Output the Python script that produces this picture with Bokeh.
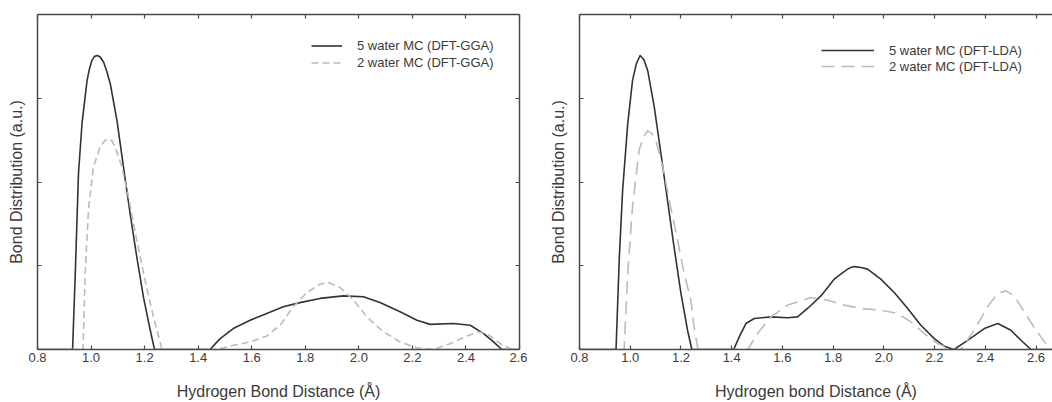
from bokeh.plotting import figure
from bokeh.layouts import row
from bokeh.models import (LinearAxis, FixedTicker, CustomJSTickFormatter, Legend, LegendItem, Range1d)
from bokeh.embed import file_html
from bokeh.resources import INLINE

# ---- data ----
gga5_x = [0.80, 0.931, 0.941, 0.953, 0.966, 0.985, 0.994, 1.003, 1.013, 1.024, 1.035, 1.047, 1.059, 1.072,
          1.097, 1.121, 1.146, 1.171, 1.196, 1.221, 1.237,
          1.444, 1.482, 1.531, 1.594, 1.656, 1.718, 1.78, 1.855, 1.942, 2.017, 2.079, 2.154, 2.217, 2.266,
          2.353, 2.416, 2.466, 2.503, 2.534, 2.60]
gga5_y = [0.0, 0.0, 0.90, 2.10, 2.69, 3.21, 3.35, 3.45, 3.50, 3.51, 3.49, 3.43, 3.32, 3.17,
          2.73, 2.18, 1.62, 1.10, 0.62, 0.23, 0.0,
          0.0, 0.13, 0.25, 0.35, 0.43, 0.51, 0.56, 0.61, 0.64, 0.63, 0.56, 0.45, 0.35, 0.30,
          0.31, 0.29, 0.19, 0.09, 0.0, 0.0]

gga2_x = [0.80, 0.970, 0.978, 0.991, 1.009, 1.034, 1.050, 1.065, 1.078, 1.090, 1.115, 1.140, 1.171, 1.202,
          1.233, 1.265,
          1.469, 1.531, 1.594, 1.656, 1.706, 1.755, 1.806, 1.855, 1.886, 1.93, 1.98, 2.03, 2.092, 2.154,
          2.217, 2.279, 2.341, 2.403, 2.447, 2.478, 2.528, 2.572, 2.60]
gga2_y = [0.0, 0.0, 0.90, 1.70, 2.18, 2.42, 2.49, 2.52, 2.49, 2.42, 2.18, 1.82, 1.30, 0.82,
          0.39, 0.0,
          0.0, 0.05, 0.09, 0.16, 0.29, 0.51, 0.68, 0.78, 0.80, 0.74, 0.59, 0.39, 0.21, 0.09,
          0.02, 0.0, 0.07, 0.16, 0.21, 0.19, 0.07, 0.0, 0.0]

lda5_x = [0.80, 0.944, 0.957, 0.970, 0.990, 1.009, 1.024, 1.039, 1.054, 1.069, 1.095, 1.121, 1.147, 1.173,
          1.200, 1.226, 1.243,
          1.408, 1.430, 1.456, 1.489, 1.555, 1.621, 1.660, 1.699, 1.752, 1.804, 1.857, 1.870, 1.883, 1.910,
          1.936, 1.988, 2.041, 2.094, 2.146, 2.199, 2.238, 2.277, 2.330, 2.396, 2.449, 2.501, 2.541, 2.58, 2.70]
lda5_y = [0.0, 0.0, 1.10, 1.90, 2.69, 3.21, 3.41, 3.51, 3.46, 3.33, 2.89, 2.34, 1.78, 1.22,
          0.67, 0.23, 0.0,
          0.0, 0.15, 0.31, 0.37, 0.39, 0.38, 0.39, 0.49, 0.64, 0.84, 0.96, 0.98, 0.99, 0.98,
          0.96, 0.84, 0.68, 0.49, 0.29, 0.13, 0.04, 0.0, 0.11, 0.25, 0.31, 0.23, 0.11, 0.0, 0.0]

lda2_x = [0.80, 0.976, 0.990, 1.009, 1.035, 1.052, 1.069, 1.085, 1.101, 1.128, 1.154, 1.187, 1.213, 1.239,
          1.251, 1.267,
          1.463, 1.502, 1.555, 1.621, 1.712, 1.778, 1.844, 1.910, 1.988, 2.054, 2.107, 2.159, 2.212, 2.265,
          2.304, 2.356, 2.409, 2.449, 2.481, 2.514, 2.554, 2.600, 2.639, 2.666, 2.70]
lda2_y = [0.0, 0.0, 0.90, 1.70, 2.38, 2.54, 2.61, 2.58, 2.50, 2.18, 1.78, 1.30, 0.90, 0.59,
          0.29, 0.0,
          0.0, 0.19, 0.39, 0.53, 0.62, 0.59, 0.53, 0.49, 0.47, 0.43, 0.33, 0.19, 0.07, 0.0,
          0.0, 0.23, 0.51, 0.67, 0.70, 0.64, 0.45, 0.23, 0.07, 0.0, 0.0]

x_ticks = [0.8, 1.0, 1.2, 1.4, 1.6, 1.8, 2.0, 2.2, 2.4, 2.6]
y_ticks = [1, 2, 3]

FONT = "Liberation Sans"
AX = "#4a4a4a"
TXT = "#3a3a3a"


def style_axis(ax, ticks, labels=True, label=None):
    ax.ticker = FixedTicker(ticks=ticks)
    ax.major_tick_in = 4
    ax.major_tick_out = 0
    ax.minor_tick_line_color = None
    ax.axis_line_color = AX
    ax.axis_line_width = 1.5
    ax.major_tick_line_color = AX
    ax.major_tick_line_width = 1.2
    ax.major_label_text_font = FONT
    ax.major_label_text_color = TXT
    ax.major_label_text_font_size = "13px"
    ax.major_label_standoff = 3
    if labels:
        ax.formatter = CustomJSTickFormatter(code="return tick.toFixed(1)")
    else:
        ax.formatter = CustomJSTickFormatter(code="return ''")
        ax.major_label_standoff = 0
        ax.major_label_text_font_size = "0px"
    if label is not None:
        ax.axis_label = label
        ax.axis_label_text_font = FONT
        ax.axis_label_text_font_style = "normal"
        ax.axis_label_text_font_size = "16px"
        ax.axis_label_text_color = TXT


def make_panel(frame_w, x_end, border_left, border_right, xlabel, sx, sy, dx, dy, names, dash, gw, lh,
               leg_loc, right_axis):
    p = figure(frame_width=frame_w, frame_height=335, output_backend="svg", toolbar_location=None,
               x_range=Range1d(0.8, x_end), y_range=Range1d(0, 4),
               x_axis_location=None, y_axis_location=None,
               min_border_left=border_left, min_border_right=border_right,
               min_border_top=14, min_border_bottom=53)
    p.grid.visible = False
    p.outline_line_color = None
    p.background_fill_color = "white"
    p.border_fill_color = "white"

    bx = LinearAxis(); style_axis(bx, x_ticks, True, xlabel)
    bx.axis_label_standoff = 18
    p.add_layout(bx, "below")
    ly = LinearAxis(); style_axis(ly, y_ticks, False, "Bond Distribution (a.u.)")
    ly.axis_label_standoff = 13
    p.add_layout(ly, "left")
    tx = LinearAxis(); style_axis(tx, x_ticks, False)
    p.add_layout(tx, "above")
    if right_axis:
        ry = LinearAxis(); style_axis(ry, y_ticks, False)
        p.add_layout(ry, "right")

    r1 = p.line(sx, sy, line_color="#333333", line_width=1.6, line_join="round")
    r2 = p.line(dx, dy, line_color="#bbbbbb", line_width=1.6, line_dash=dash, line_join="round")

    leg = Legend(items=[LegendItem(label=names[0], renderers=[r1]),
                        LegendItem(label=names[1], renderers=[r2])],
                 location=leg_loc, padding=0, margin=0, spacing=0,
                 label_height=lh, glyph_height=lh, glyph_width=gw, label_standoff=15,
                 label_text_font=FONT, label_text_font_size="13px", label_text_color=TXT,
                 background_fill_alpha=0, border_line_color=None)
    p.add_layout(leg, "center")
    return p


p1 = make_panel(482, 2.6, 37, 8, "Hydrogen Bond Distance (Å)", gga5_x, gga5_y, gga2_x, gga2_y,
                ["5 water MC (DFT-GGA)", "2 water MC (DFT-GGA)"], "7 4", 31, 17, (274, 278), True)
p2 = make_panel(473, 2.665, 52, 0, "Hydrogen bond Distance (Å)", lda5_x, lda5_y, lda2_x, lda2_y,
                ["5 water MC (DFT-LDA)", "2 water MC (DFT-LDA)"], "13 7", 53, 16, (242, 275), False)

layout = row(p1, p2)
open("out.html", "w").write(file_html(layout, INLINE))
